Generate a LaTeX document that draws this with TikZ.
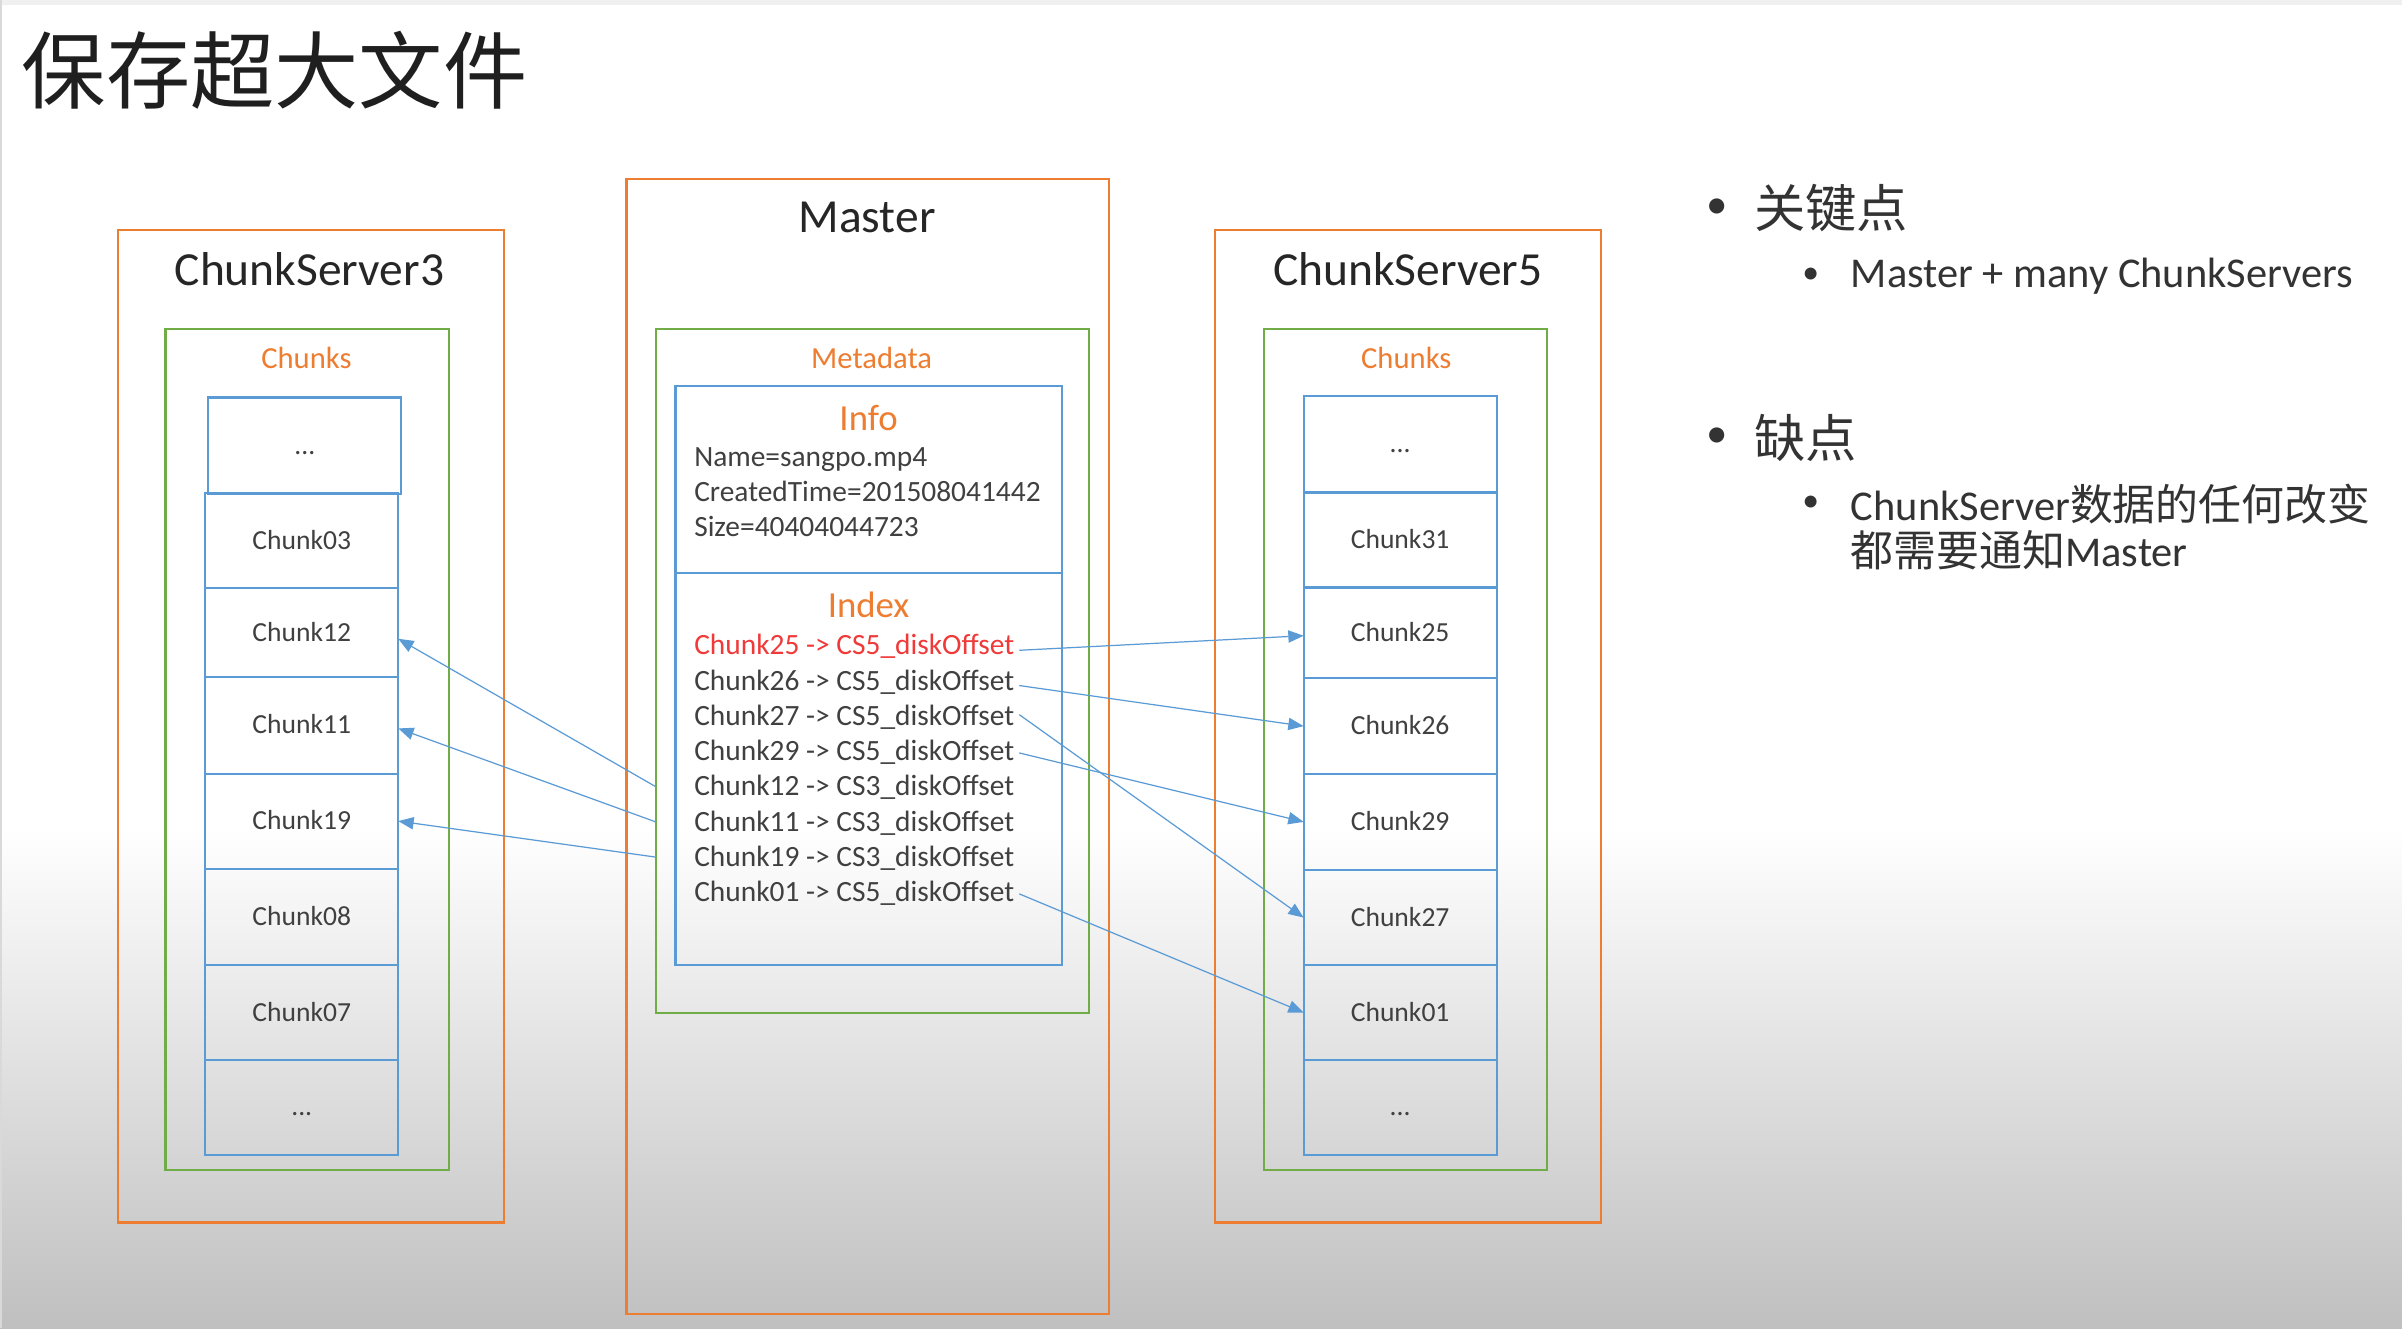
\documentclass[tikz,border=0pt]{standalone}
\usepackage{fontspec}
\setmainfont{Carlito}
\newfontfamily\cjk{Noto Sans CJK SC}
\usetikzlibrary{arrows.meta}
\definecolor{ora}{HTML}{ED7D31}
\definecolor{grn}{HTML}{70AD47}
\definecolor{blu}{HTML}{5B9BD5}
\definecolor{txt}{HTML}{404040}
\definecolor{redt}{HTML}{F03A3A}
\begin{document}
\begin{tikzpicture}[x=1pt,y=-1pt,
  box/.style={anchor=north west,inner sep=0pt,outer sep=0pt},
  outerbox/.style={box,draw=ora,line width=1.4pt},
  greenbox/.style={box,draw=grn,line width=1.4pt},
  bluebox/.style={box,draw=blu,line width=1.4pt},
  chunkbox/.style={draw=blu,line width=1.4pt,minimum width=126pt,inner sep=0pt,outer sep=0pt,
     text height=14pt,text depth=3pt,
     font=\fontsize{18}{21}\selectfont,text=txt},
  bigtitle/.style={font=\fontsize{31}{36}\selectfont,text=black!85},
  subtitle/.style={font=\fontsize{20}{24}\selectfont,text=ora},
  parttitle/.style={font=\fontsize{24}{28}\selectfont,text=ora},
  entry/.style={anchor=west,inner sep=3pt,text height=16pt,text depth=4pt,
     font=\fontsize{19.2}{22}\selectfont,text=txt},
  rtext/.style={anchor=west,inner sep=0pt,font=\fontsize{27.7}{32}\selectfont,text=black!80},
  rcjk/.style={anchor=west,inner sep=0pt,font=\cjk\fontsize{33.5}{38}\selectfont,text=black!80},
  link/.style={draw=blu,line width=0.8pt,-{Triangle[length=10pt,width=8pt]}}
]
% background
\useasboundingbox (0,0) rectangle (1568,867);
\fill[white] (0,0) rectangle (1568,867);
\shade[top color=white,bottom color=gray!50] (0,540) rectangle (1568,867);
\fill[black!6] (0,0) rectangle (1568,3);
\draw[black!15,line width=1pt] (0.5,0) -- (0.5,867);

% title
\node[anchor=west,inner sep=0pt,font=\cjk\fontsize{55}{60}\selectfont,text=black!88] (title) at (14,46) {保存超大文件};

% outer boxes
\node[outerbox,minimum width=252pt,minimum height=648pt] (cs3) at (77,150) {};
\node[outerbox,minimum width=315pt,minimum height=741pt] (master) at (409,117) {};
\node[outerbox,minimum width=252pt,minimum height=648pt] (cs5) at (793,150) {};
\node[bigtitle] (cs3t) at (202,176) {ChunkServer3};
\node[bigtitle] (mastert) at (566,142) {Master};
\node[bigtitle] (cs5t) at (919,176) {ChunkServer5};

% green boxes
\node[greenbox,minimum width=185pt,minimum height=549pt] (g3) at (108,215) {};
\node[greenbox,minimum width=283pt,minimum height=446pt] (meta) at (428,215) {};
\node[greenbox,minimum width=185pt,minimum height=549pt] (g5) at (825,215) {};
\node[subtitle] (g3t) at (200,234) {Chunks};
\node[subtitle] (metat) at (569,234) {Metadata};
\node[subtitle] (g5t) at (918,234) {Chunks};

% info / index boxes
\node[bluebox,minimum width=252pt,minimum height=122pt] (info) at (441,252) {};
\node[bluebox,minimum width=252pt,minimum height=256pt] (index) at (441,374) {};
\node[parttitle] (infot) at (567,273) {Info};
\node[parttitle] (indext) at (567,395) {Index};
\node[entry] (n1) at (450,298.5) {Name=sangpo.mp4};
\node[entry] (n2) at (450,321.5) {CreatedTime=201508041442};
\node[entry] (n3) at (450,344.5) {Size=40404044723};
\node[entry,text=redt] (l25) at (450,421.5) {Chunk25 -> CS5\_diskOffset};
\node[entry] (l26) at (450,444.5) {Chunk26 -> CS5\_diskOffset};
\node[entry] (l27) at (450,467.5) {Chunk27 -> CS5\_diskOffset};
\node[entry] (l29) at (450,490.5) {Chunk29 -> CS5\_diskOffset};
\node[entry] (l12) at (450,513.5) {Chunk12 -> CS3\_diskOffset};
\node[entry] (l11) at (450,536.5) {Chunk11 -> CS3\_diskOffset};
\node[entry] (l19) at (450,559.5) {Chunk19 -> CS3\_diskOffset};
\node[entry] (l01) at (450,582.5) {Chunk01 -> CS5\_diskOffset};

% left chunk column
\node[chunkbox,minimum height=63pt] (ltop) at (199,291) {...};
\node[chunkbox,minimum height=62pt] (c03) at (197,353) {Chunk03};
\node[chunkbox,minimum height=58pt] (c12) at (197,413) {Chunk12};
\node[chunkbox,minimum height=63pt] (c11) at (197,473.5) {Chunk11};
\node[chunkbox,minimum height=62pt] (c19) at (197,536) {Chunk19};
\node[chunkbox,minimum height=63pt] (c08) at (197,598.5) {Chunk08};
\node[chunkbox,minimum height=62pt] (c07) at (197,661) {Chunk07};
\node[chunkbox,minimum height=62pt] (lbot) at (197,723) {...};

% right chunk column
\node[chunkbox,minimum height=63pt] (rtop) at (914,290) {...};
\node[chunkbox,minimum height=62pt] (r31) at (914,352.5) {Chunk31};
\node[chunkbox,minimum height=59pt] (r25) at (914,413) {Chunk25};
\node[chunkbox,minimum height=62.5pt] (r26) at (914,474) {Chunk26};
\node[chunkbox,minimum height=62.5pt] (r29) at (914,536.5) {Chunk29};
\node[chunkbox,minimum height=62pt] (r27) at (914,599) {Chunk27};
\node[chunkbox,minimum height=62pt] (r01) at (914,661) {Chunk01};
\node[chunkbox,minimum height=62pt] (rbot) at (914,723) {...};

% connectors
\draw[link] (meta.west |- l12) -- ([yshift=-4pt]c12.east);
\draw[link] (meta.west |- l11) -- ([yshift=-2pt]c11.east);
\draw[link] (meta.west |- l19) -- (c19.east);
\draw[link] ([yshift=-3pt]l25.east) -- ([yshift=-2pt]r25.west);
\draw[link] ([yshift=-3pt]l26.east) -- (r26.west);
\draw[link] ([yshift=1pt]l27.east) -- (r27.west);
\draw[link] ([yshift=-1pt]l29.east) -- (r29.west);
\draw[link] ([yshift=-1pt]l01.east) -- (r01.west);

% right-hand notes
\node[anchor=center,font=\fontsize{28}{32}\selectfont,text=black!80] (b1) at (1121,136) {•};
\node[rcjk] (k1) at (1145,136) {关键点};
\node[anchor=center,font=\fontsize{22}{26}\selectfont,text=black!80] (b2) at (1182,180) {•};
\node[rtext] (k2) at (1208,180) {Master + many ChunkServers};
\node[anchor=center,font=\fontsize{28}{32}\selectfont,text=black!80] (b3) at (1121,286) {•};
\node[rcjk] (k3) at (1145,286) {缺点};
\node[anchor=center,font=\fontsize{22}{26}\selectfont,text=black!80] (b4) at (1182,329) {•};
\node[rtext] (k4) at (1208,329) {ChunkServer{\cjk\fontsize{28}{32}\selectfont 数据的任何改变}};
\node[rtext] (k5) at (1208,359) {{\cjk\fontsize{28}{32}\selectfont 都需要通知}Master};
\end{tikzpicture}
\end{document}
